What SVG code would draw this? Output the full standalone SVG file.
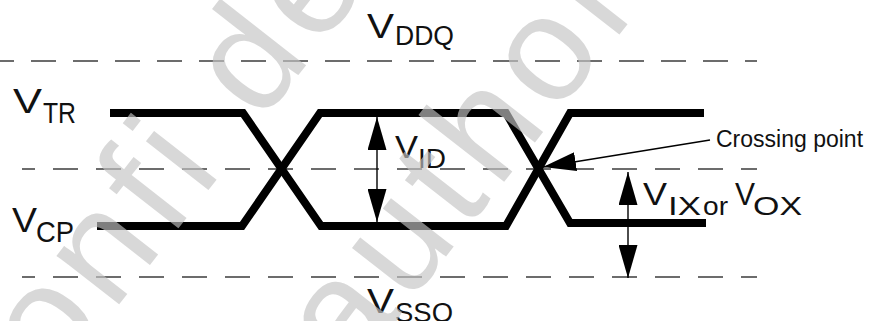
<svg xmlns="http://www.w3.org/2000/svg" width="872" height="321" viewBox="0 0 872 321">
<style>
.dash{stroke:#3c3c3c;stroke-width:1.3;fill:none}
.wave{stroke:#000;stroke-width:8;fill:none;stroke-linejoin:miter;stroke-linecap:butt}
.arr{stroke:#000;stroke-width:1.4;fill:none}
.t{font-family:"Liberation Sans",Arial,sans-serif;fill:#111}
.v{font-size:35px}
.v2{font-size:32px}
.s1{font-size:29px}
.s2{font-size:27px}
.s3{font-size:25px}
.lbl{font-family:"Liberation Sans",Arial,sans-serif;font-size:23px;fill:#111}
.wm{font-family:"Liberation Sans",Arial,sans-serif;font-size:150px;fill:#c4c4c4;opacity:0.65;letter-spacing:10px}
</style>
<defs>
<marker id="ah" viewBox="0 0 33 19" refX="33" refY="9.5" markerWidth="33" markerHeight="19" markerUnits="userSpaceOnUse" orient="auto-start-reverse">
<path d="M0,0 L33,9.5 L0,19 Z" fill="#000"/>
</marker>
</defs>
<rect width="872" height="321" fill="#fff"/>
<g id="reference-lines">
<line class="dash" x1="-11" y1="61" x2="757" y2="61" stroke-dasharray="25 17"/>
<line class="dash" x1="22" y1="169" x2="757" y2="169" stroke-dasharray="25 18" stroke-dashoffset="12"/>
<line class="dash" x1="22" y1="277" x2="757" y2="277" stroke-dasharray="25 18" stroke-dashoffset="12"/>
</g>
<g id="waveforms">
<path class="wave" d="M110,113 H243 L321,226 H506 L570,113 H704"/>
<path class="wave" d="M97,226 H242 L320,113 H506 L570,223 H706"/>
</g>
<g id="connectors">
<line class="arr" x1="377" y1="117" x2="377" y2="222" marker-start="url(#ah)" marker-end="url(#ah)"/>
<line class="arr" x1="628" y1="172" x2="628" y2="278" marker-start="url(#ah)" marker-end="url(#ah)"/>
<line class="arr" x1="710" y1="140" x2="543" y2="167" marker-end="url(#ah)"/>
</g>
<g id="label-vddq">
<text class="t v" x="367" y="38" textLength="27" lengthAdjust="spacingAndGlyphs">V</text>
<text class="t s2" x="395" y="45" textLength="59" lengthAdjust="spacingAndGlyphs">DDQ</text>
</g>
<g id="label-vtr">
<text class="t v" x="13" y="113" textLength="29" lengthAdjust="spacingAndGlyphs">V</text>
<text class="t s1" x="43" y="123" textLength="33" lengthAdjust="spacingAndGlyphs">TR</text>
</g>
<g id="label-vcp">
<text class="t v" x="12" y="232" textLength="25" lengthAdjust="spacingAndGlyphs">V</text>
<text class="t s1" x="36" y="242" textLength="38" lengthAdjust="spacingAndGlyphs">CP</text>
</g>
<g id="label-vssq">
<text class="t v" x="367" y="313" textLength="27" lengthAdjust="spacingAndGlyphs">V</text>
<text class="t s2" x="395" y="322" textLength="58" lengthAdjust="spacingAndGlyphs">SSQ</text>
</g>
<g id="label-vid">
<text class="t v2" x="395" y="158" textLength="23" lengthAdjust="spacingAndGlyphs">V</text>
<text class="t s2" x="418" y="168" textLength="28" lengthAdjust="spacingAndGlyphs">ID</text>
</g>
<g id="label-vix-vox">
<text class="t v2" x="643" y="205" textLength="24" lengthAdjust="spacingAndGlyphs">V</text>
<text class="t s3" x="668" y="215" textLength="33" lengthAdjust="spacingAndGlyphs">IX</text>
<text class="t s3" x="703" y="215" textLength="25" lengthAdjust="spacingAndGlyphs">or</text>
<text class="t v2" x="735" y="205" textLength="20" lengthAdjust="spacingAndGlyphs">V</text>
<text class="t s3" x="753" y="215" textLength="49" lengthAdjust="spacingAndGlyphs">OX</text>
</g>
<g id="label-crossing">
<text class="lbl" x="716" y="147">Crossing point</text>
</g>
<g id="watermark">
<text class="wm" transform="translate(3,453) rotate(-52)">confi dential</text>
<text class="wm" transform="translate(351,378) rotate(-52)">authori zed</text>
</g>
</svg>
